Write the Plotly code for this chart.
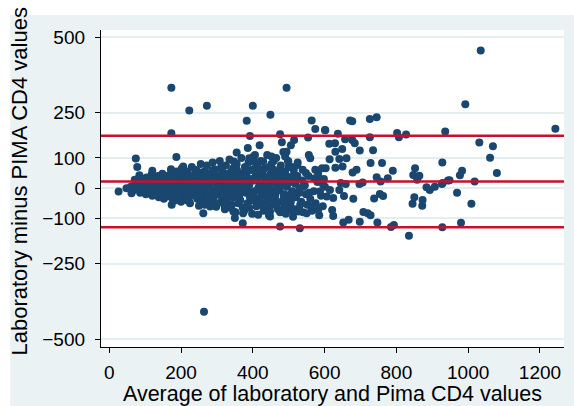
import plotly.graph_objects as go

# Bland-Altman: average of lab & Pima CD4 (x) vs lab minus Pima (y)
avg_vals = [
    # dense cluster
    60, 66, 72, 78, 82, 86, 88, 92, 95, 98,
    102, 104, 106, 110, 112, 115, 118, 120, 122, 125, 128, 130, 133, 136, 138, 140,
    142, 145, 148, 150, 152, 155, 158, 160, 162, 165, 168, 170, 172, 175, 178, 180,
    182, 185, 188, 190, 192, 195, 198, 200, 202, 205, 208, 210, 212, 215, 218, 220,
    222, 225, 228, 230, 232, 235, 238, 240, 242, 245, 248, 250, 252, 255, 258, 260,
    262, 265, 268, 270, 272, 275, 278, 280, 282, 285, 288, 290, 292, 295, 298, 300,
    302, 305, 308, 310, 312, 315, 318, 320, 322, 325, 328, 330, 332, 335, 338, 340,
    342, 345, 348, 350, 352, 355, 358, 360, 362, 365, 368, 370, 372, 375, 378, 380,
    382, 385, 388, 390, 392, 395, 398, 400, 402, 405, 408, 410, 412, 415, 418, 420,
    422, 425, 428, 430, 432, 435, 438, 440, 442, 445, 448, 450, 452, 455, 458, 460,
    462, 465, 468, 470, 472, 475, 478, 480, 482, 485, 488, 490, 492, 495, 498, 500,
    502, 505, 508, 510, 512, 515, 518, 520, 525, 528, 530, 535, 538, 540,
    545, 548, 552, 555, 560, 565, 570, 575, 580, 585, 590, 595,
    # extra fill
    110, 118, 126, 134, 144, 150, 156, 164, 170, 176, 184, 190, 196, 204, 210, 216,
    224, 230, 236, 244, 250, 256, 264, 270, 276, 284, 290, 296, 304, 312, 318, 326,
    334, 340, 346, 354, 360, 366, 374, 380, 386, 394, 400, 406, 414, 420, 426, 434,
    440, 446, 454, 460, 466, 474, 480, 486, 494, 500, 506, 514, 520, 530,
    96, 100, 108, 114, 120, 126, 132, 138, 146, 152, 158, 162, 168, 174, 180, 186,
    192, 198, 202, 206, 212, 218, 222, 226, 232, 238, 242, 246, 252, 258, 262, 266,
    272, 278, 282, 286, 292, 298, 302, 306, 312, 316, 320, 324, 328, 334, 338, 344,
    348, 352, 356, 362, 366, 370, 376, 380, 384, 390, 396, 402, 408, 412, 418, 424,
    428, 432, 438, 444, 448, 452, 458, 464, 470, 476, 482, 488, 494, 500, 506, 512,
    518, 524, 532, 540, 548, 556, 562,
    # left edge / low cluster
    74, 78, 84, 71, 187, 120, 172, 206, 26, 48, 62, 262, 281, 174,
    346, 373, 350, 415, 448, 448, 503, 527, 550, 582, 372, 476, 531,
    # upper scattered points
    173, 223, 272, 383, 400, 449, 494, 564, 574, 601, 671, 173,
    392, 476, 481, 515, 506, 554, 419, 386, 494, 490, 355, 347, 556, 560,
    390, 406, 429, 452, 499, 524, 539, 574, 582, 603, 571, 587, 596,
    # right side 580-860
    602, 677, 726, 745, 637, 726, 802, 807, 827,
    613, 629, 657, 677, 684, 698, 630, 649, 735,
    614, 641, 661, 630, 650, 728, 760, 790, 593, 678, 689,
    852, 847, 864, 858, 745, 756, 776, 706, 697,
    598, 601, 615, 624, 645, 659, 641, 654, 587, 606, 680, 738, 754, 763,
    884, 893, 907, 927, 944, 850, 845, 873, 872,
    621, 624, 708, 720, 728, 652, 667, 698, 747, 785, 793, 835,
    # far right
    936, 1243, 992, 1031, 1069, 1061, 928, 1080, 983, 977, 948, 929, 1018, 969, 1009, 980, 928,
    # outliers
    1035, 264,
]

diff_vals = [
    # dense cluster
    5, -8, 12, -3, 20, -15, 5, 30, -10, 15,
    -20, 35, 0, 22, -12, 8, 45, -25, 15, -5, 30, -18, 10, 40, -30, 0,
    20, -10, 48, 5, -35, 28, -15, 12, 40, -5, -28, 22, 50, 0, -40, 32,
    -12, 10, 55, -25, 38, -2, 20, -45, 65, 8, -18, 42, -30, 15, 55, -8,
    30, -50, 0, 70, 18, -22, 45, -5, 60, -35, 25, -58, 10, 80, -15, 38,
    -40, 55, 5, -20, 75, 28, -50, 12, 48, -8, 85, -30, 20, 62, -62, 0,
    40, -22, 90, 15, -45, 55, -5, 30, -70, 75, 8, -30, 48, 95, -12, 22,
    -55, 65, 0, 38, -80, 80, -25, 15, 50, -40, 100, 5, -65, 30, 70, -15,
    45, -50, 85, 10, -30, 60, -85, 25, 105, -10, 40, -60, 75, 0, -35, 50,
    90, -20, 15, -75, 65, 30, -45, 110, 5, -90, 45, -15, 80, 20, -55, 60,
    -30, 100, 10, -70, 40, -5, 75, -45, 25, 120, -20, 55, -85, 5, 90, -40,
    35, -60, 70, -10, -95, 45, 15, -30, 85, -70, 0, -45, 25, -80,
    10, -20, -55, 40, -35, -75, -10, -50, 20, -90, -25, -60,
    # extra fill
    -5, 20, -10, 18, -20, 30, -2, 25, -15, 15, -30, 20, 45, -25, 25, -40,
    10, -15, 30, -10, 45, -28, 20, 40, -10, 30, 60, -20, 20, 35, -40, -15,
    10, 55, -30, 25, -50, 40, -5, 60, 20, -15, -40, 65, 30, -5, 45, -25,
    20, 70, -10, 35, -50, 55, 10, -25, 40, 20, -20, 60, 30, -15,
    -2, 10, 28, -15, 5, 32, -22, 12, 0, 18, -28, 5, 35, -12, 10, -40,
    5, -15, 30, -5, 50, -20, -35, 40, -5, 15, -25, 55, -8, 30, 0, -55,
    15, 25, -30, 55, -45, 35, -10, 5, 70, -25, -55, 45, -40, 30, -65, 15,
    45, -15, 60, -30, -10, 25, -75, 40, 0, -65, 30, -20, 85, -45, 15, -55,
    60, -10, 35, -65, 0, -35, 90, -15, 25, -80, 50, -60, 10, 70, -45, 20,
    -70, 40, -55, 5, 50, -15, -60,
    # left edge / low cluster
    98, 70, 43, 28, 103, 58, 63, 72, -11, 0, -17, -83, -61, -55,
    -77, -83, -99, -88, -94, -77, -72, -77, -83, -72, -116, -127, -133,
    # upper scattered points
    333, 257, 273, 223, 273, 243, 333, 224, 196, 193, 224, 182,
    173, 179, 152, 160, 142, 168, 142, 133, 121, 105, 118, 88, 110, 99,
    99, 110, 88, 105, 88, 77, 61, 61, 47, 66, 32, 25, 11,
    # right side 580-860
    192, 222, 229, 235, 180, 169, 183, 169, 178,
    147, 149, 162, 160, 149, 125, 121, 130, 126,
    96, 97, 99, 68, 72, 83, 83, 58, 66, 52, 61,
    66, 44, 41, 28, 36, 22, 33, 19, 14,
    30, 5, -6, -33, 17, 14, -6, -26, -11, -28, -35, -34, -19, -26,
    3, -6, 5, 14, 25, -30, -52, -39, -58,
    -72, -92, -79, -83, -90, -114, -105, -111, -114, -129, -122, -158,
    # far right
    188, 197, 278, 151, 139, 101, 85, 50, 58, 43, 26, 17, 22, -15, -52, -115, -130,
    # outliers
    456, -410,
]

mean_diff = 22
upper_loa = 174
lower_loa = -130

x_ticks = [0, 200, 400, 600, 800, 1000, 1200]
y_ticks = [500, 250, 100, 0, -100, -250, -500]

x_title = "Average of laboratory and Pima CD4 values"
y_title = "Laboratory minus PIMA CD4 values"

bg = "#eaf2f3"
grid = "#e4edf0"
navy = "#1a476f"
red = "#c8102e"

fig = go.Figure()
fig.add_trace(go.Scatter(
    x=avg_vals, y=diff_vals, mode="markers",
    marker=dict(color=navy, size=8, line=dict(width=0)),
    showlegend=False, hoverinfo="x+y",
))

for v in [upper_loa, mean_diff, lower_loa]:
    fig.add_shape(type="line", xref="paper", x0=0, x1=1, yref="y", y0=v, y1=v,
                  line=dict(color=red, width=2.5), layer="above")

# white strips around the graph region
fig.add_shape(type="rect", xref="paper", yref="paper", x0=-0.3, x1=1.1,
              y0=1.047, y1=1.2, fillcolor="white", line=dict(width=0), layer="below")
fig.add_shape(type="rect", xref="paper", yref="paper", x0=-0.3, x1=-0.196,
              y0=-0.3, y1=1.2, fillcolor="white", line=dict(width=0), layer="below")

font = "Liberation Sans, Arial, Helvetica, sans-serif"

fig.add_annotation(text=y_title, xref="paper", yref="paper", x=-0.175, y=0.525,
                   xanchor="center", yanchor="middle", textangle=-90,
                   showarrow=False, font=dict(size=22, family=font, color="black"))

fig.update_layout(
    width=574, height=406,
    margin=dict(l=101, r=10, t=30, b=59),
    paper_bgcolor=bg, plot_bgcolor="white",
    font=dict(family=font, size=19, color="black"),
    xaxis=dict(
        range=[-23, 1267], tickvals=x_ticks, ticks="outside", ticklen=5,
        tickwidth=1.2, tickcolor="black", showline=True, linecolor="black",
        linewidth=1.3, showgrid=False, zeroline=False, automargin=False,
        ticklabelstandoff=3,
        title=dict(text=x_title, font=dict(size=21.5), standoff=4),
    ),
    yaxis=dict(
        range=[-526.5, 524.2], tickvals=y_ticks, ticks="outside", ticklen=5,
        tickwidth=1.2, tickcolor="black", showline=True, linecolor="black",
        linewidth=1.3, showgrid=True, gridcolor=grid, gridwidth=2,
        zeroline=False, automargin=False, ticklabelstandoff=6,
    ),
)

fig.write_html("out.html")
